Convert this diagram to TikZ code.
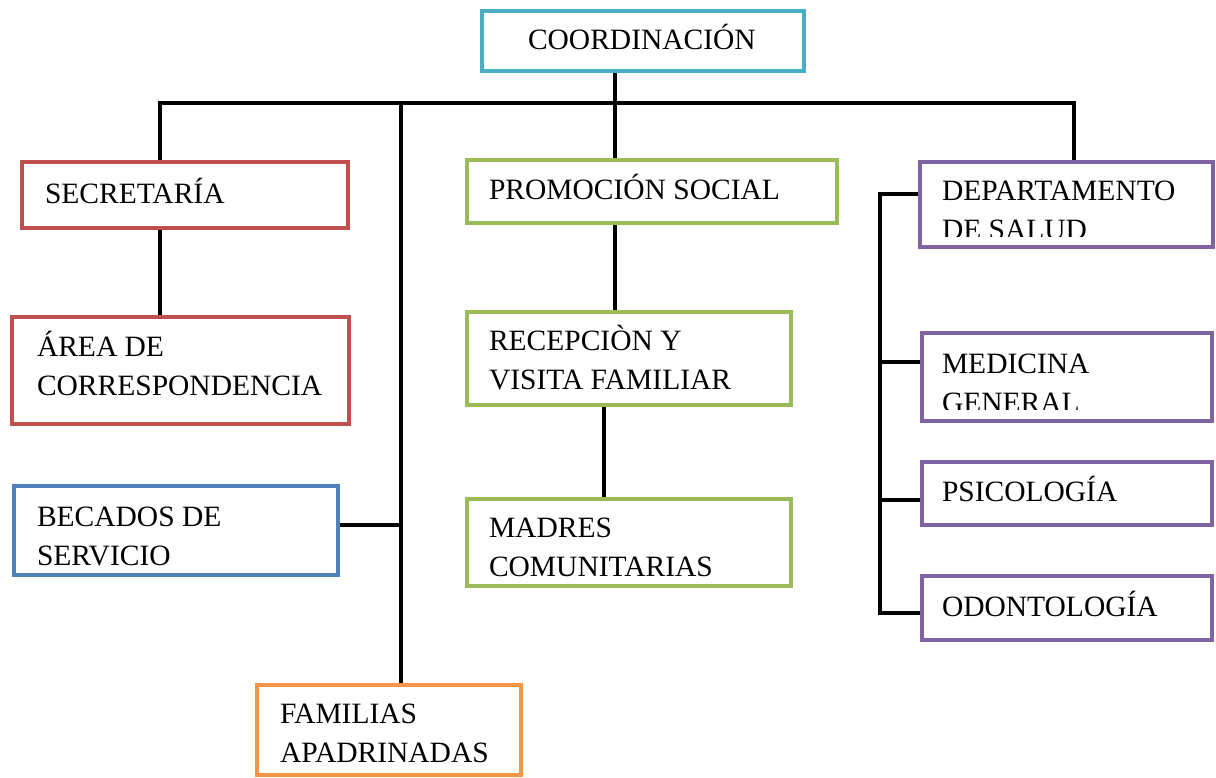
\documentclass[tikz,border=0pt]{standalone}
\usepackage{fontspec}
\setmainfont{Liberation Serif}
\usetikzlibrary{backgrounds}
\definecolor{caqua}{HTML}{4BACC6}
\definecolor{cred}{HTML}{C0504D}
\definecolor{cblue}{HTML}{4F81BD}
\definecolor{corange}{HTML}{F79646}
\definecolor{cgreen}{HTML}{9BBB59}
\definecolor{cpurple}{HTML}{8064A2}
\newcommand\mlines[1]{\begin{tabular}[t]{@{}l@{}}#1\end{tabular}}
\begin{document}
\begin{tikzpicture}[x=0.5pt,y=-0.5pt,
  box/.style={draw=#1, line width=2.25pt, fill=white, inner sep=0pt, outer sep=0pt},
  lbl/.style={inner sep=0pt, outer sep=0pt, anchor=base west, font=\fontsize{14.75}{19.5}\selectfont},
  conn/.style={line width=2pt, line join=miter}]
\useasboundingbox (0,0) rectangle (1216,777);

% boxes
\node[box=caqua,  minimum width=161pt,   minimum height=30pt]   (coord)  at (643,41) {};
\node[box=cred,   minimum width=163pt,   minimum height=33pt]   (sec)    at (185,195) {};
\node[box=cred,   minimum width=168.5pt, minimum height=53.5pt] (area)   at (180.5,370.5) {};
\node[box=cblue,  minimum width=162pt,   minimum height=44.5pt] (bec)    at (176,530.5) {};
\node[box=corange,minimum width=132pt,   minimum height=45pt]   (fam)    at (389,730) {};
\node[box=cgreen, minimum width=185pt,   minimum height=31.5pt] (promo)  at (652,191.5) {};
\node[box=cgreen, minimum width=162pt,   minimum height=46.5pt] (recep)  at (629,358.5) {};
\node[box=cgreen, minimum width=162pt,   minimum height=43.5pt] (madres) at (629,542.5) {};
\node[box=cpurple,minimum width=146.5pt, minimum height=42.5pt] (dept)   at (1066.5,204.5) {};
\node[box=cpurple,minimum width=145pt,   minimum height=44pt]   (med)    at (1067,377) {};
\node[box=cpurple,minimum width=145pt,   minimum height=31.5pt] (psico)  at (1067,493.5) {};
\node[box=cpurple,minimum width=145pt,   minimum height=32pt]   (odon)   at (1067,608) {};

% texts
\node[lbl] (coordT)  at (528,49)  {COORDINACIÓN};
\node[lbl] (secT)    at (45,203)  {SECRETARÍA};
\node[lbl] (areaT)   at (37,356)  {\mlines{ÁREA DE\\CORRESPONDENCIA}};
\node[lbl] (becT)    at (37,526)  {\mlines{BECADOS DE\\SERVICIO}};
\node[lbl] (famT)    at (280,723) {\mlines{FAMILIAS\\APADRINADAS}};
\node[lbl] (promoT)  at (489,199) {PROMOCIÓN SOCIAL};
\node[lbl] (recepT)  at (489,350) {\mlines{RECEPCIÒN Y\\VISITA FAMILIAR}};
\node[lbl] (madresT) at (489,537) {\mlines{MADRES\\COMUNITARIAS}};
\begin{scope}
  \clip (920,162) rectangle (1213,236);
  \node[lbl] (deptT) at (942,200) {\mlines{DEPARTAMENTO\\DE SALUD}};
\end{scope}
\begin{scope}
  \clip (922,333) rectangle (1212,409);
  \node[lbl] (medT) at (942,373) {\mlines{MEDICINA\\GENERAL}};
\end{scope}
\node[lbl] (psicoT)  at (942,501) {PSICOLOGÍA};
\node[lbl] (odonT)   at (942,616) {ODONTOLOGÍA};

% junction coordinates
\coordinate (bL) at (160,103);
\coordinate (bF) at (401,103);
\coordinate (bC) at (615,103);
\coordinate (bR) at (1074,103);
\coordinate (bB) at (401,525);
\coordinate (bM) at (604,0);
\coordinate (s1) at (880,194);
\coordinate (s2) at (880,362);
\coordinate (s3) at (880,500);
\coordinate (s4) at (880,613);

\begin{scope}[on background layer]
  \draw[conn] (bL |- sec.north) -- (bL) -- (bR) -- (bR |- dept.north);
  \draw[conn] (bC |- coord.south) -- (bC |- promo.north);
  \draw[conn] (bF) -- (bF |- fam.north);
  \draw[conn] (bec.east |- bB) -- (bB);
  \draw[conn] (bL |- sec.south) -- (bL |- area.north);
  \draw[conn] (bC |- promo.south) -- (bC |- recep.north);
  \draw[conn] (bM |- recep.south) -- (bM |- madres.north);
  \draw[conn] (dept.west |- s1) -- (s1) -- (s4) -- (odon.west |- s4);
  \draw[conn] (s2) -- (med.west |- s2);
  \draw[conn] (s3) -- (psico.west |- s3);
\end{scope}
\end{tikzpicture}
\end{document}
